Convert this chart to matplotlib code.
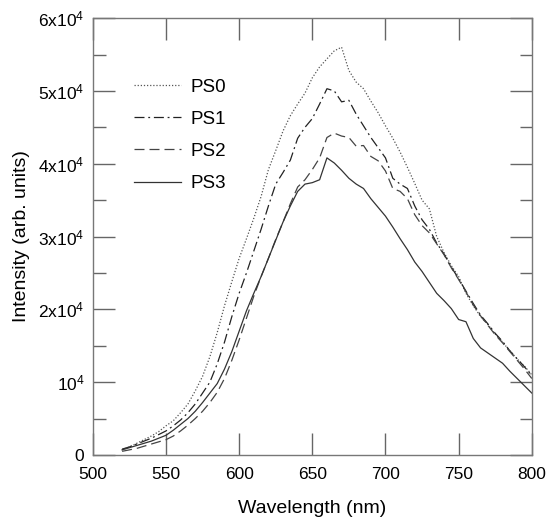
import matplotlib
matplotlib.use("Agg")
import matplotlib.pyplot as plt
from matplotlib.ticker import MultipleLocator, FixedLocator

plt.rcParams['font.family'] = ['Liberation Sans', 'DejaVu Sans']
plt.rcParams['mathtext.default'] = 'regular'

wavelength = list(range(520, 801, 5))

ps0 = [0.07, 0.11, 0.16, 0.21, 0.26, 0.32, 0.40, 0.47, 0.58, 0.70, 0.88, 1.08, 1.35, 1.68, 2.05,
       2.38, 2.70, 2.97, 3.25, 3.55, 3.92, 4.18, 4.45, 4.66, 4.82, 4.97, 5.18, 5.33, 5.44, 5.55,
       5.60, 5.28, 5.12, 5.03, 4.86, 4.70, 4.52, 4.35, 4.16, 3.95, 3.73, 3.50, 3.38, 3.00, 2.78,
       2.60, 2.45, 2.22, 2.05, 1.90, 1.79, 1.66, 1.55, 1.43, 1.32, 1.22, 1.10]
ps1 = [0.08, 0.11, 0.15, 0.19, 0.23, 0.28, 0.33, 0.40, 0.48, 0.58, 0.70, 0.85, 1.00, 1.25, 1.55,
       1.90, 2.22, 2.50, 2.80, 3.10, 3.42, 3.72, 3.88, 4.05, 4.35, 4.50, 4.62, 4.82, 5.03, 5.00,
       4.85, 4.87, 4.68, 4.52, 4.36, 4.22, 4.08, 3.80, 3.72, 3.66, 3.42, 3.23, 3.10, 2.91, 2.76,
       2.58, 2.42, 2.25, 2.08, 1.92, 1.80, 1.67, 1.56, 1.43, 1.32, 1.21, 1.09]
ps2 = [0.05, 0.07, 0.09, 0.12, 0.15, 0.18, 0.21, 0.26, 0.33, 0.41, 0.50, 0.60, 0.72, 0.86, 1.05,
       1.30, 1.58, 1.88, 2.18, 2.45, 2.70, 2.96, 3.20, 3.45, 3.68, 3.78, 3.92, 4.08, 4.36, 4.42,
       4.38, 4.36, 4.24, 4.25, 4.10, 4.04, 3.90, 3.66, 3.62, 3.52, 3.30, 3.15, 3.05, 2.90, 2.75,
       2.57, 2.41, 2.24, 2.06, 1.91, 1.78, 1.65, 1.54, 1.42, 1.30, 1.18, 1.05]
ps3 = [0.07, 0.10, 0.13, 0.16, 0.19, 0.23, 0.27, 0.34, 0.42, 0.50, 0.60, 0.72, 0.85, 0.98, 1.18,
       1.42, 1.70, 1.98, 2.22, 2.45, 2.70, 2.95, 3.20, 3.42, 3.62, 3.72, 3.74, 3.78, 4.08, 4.01,
       3.91, 3.80, 3.72, 3.66, 3.52, 3.40, 3.28, 3.13, 2.97, 2.82, 2.65, 2.52, 2.37, 2.22, 2.12,
       2.01, 1.86, 1.83, 1.60, 1.47, 1.40, 1.33, 1.26, 1.15, 1.05, 0.95, 0.85]
scale = 1e4

series_names = ['PS0', 'PS1', 'PS2', 'PS3']
x_ticks = [500, 550, 600, 650, 700, 750, 800]
y_ticks = [0, 1e4, 2e4, 3e4, 4e4, 5e4, 6e4]
y_tick_labels = ['0', '10$^4$', '2x10$^4$', '3x10$^4$', '4x10$^4$', '5x10$^4$', '6x10$^4$']

fig = plt.figure(figsize=(5.46, 5.17), dpi=100)
ax = fig.add_axes([0.170, 0.120, 0.804, 0.845])

styles = [
    dict(linestyle=(0, (1, 1.5)), color='#555555', linewidth=0.9),
    dict(linestyle=(0, (8, 3, 1.5, 3)), color='#222222', linewidth=0.9),
    dict(linestyle=(0, (8, 4)), color='#444444', linewidth=0.9),
    dict(linestyle='-', color='#333333', linewidth=0.9),
]
data = [ps0, ps1, ps2, ps3]
for name, vals, st in zip(series_names, data, styles):
    ax.plot(wavelength, [v * scale for v in vals], label=name, **st)

ax.set_xlim(500, 800)
ax.set_ylim(0, 6e4)
ax.xaxis.set_major_locator(FixedLocator(x_ticks))
ax.set_xticklabels([str(t) for t in x_ticks])
ax.yaxis.set_major_locator(FixedLocator(y_ticks))
ax.set_yticklabels(y_tick_labels)
ax.yaxis.set_minor_locator(MultipleLocator(5000))

ax.tick_params(which='both', direction='in', top=True, right=True, color='#666666', width=1)
ax.tick_params(which='major', length=16, labelsize=12.5, pad=6)
ax.tick_params(axis='x', which='major', pad=8.5)
ax.tick_params(which='minor', length=9)
ax.tick_params(axis='x', which='minor', bottom=False, top=False)
for sp in ax.spines.values():
    sp.set_color('#777777')
    sp.set_linewidth(1)

ax.set_xlabel('Wavelength (nm)', fontsize=14, labelpad=13)
ax.set_ylabel('Intensity (arb. units)', fontsize=14, labelpad=6)

leg = ax.legend(loc='upper left', bbox_to_anchor=(0.055, 0.9), frameon=False, fontsize=13.5,
                handlelength=2.5, labelspacing=0.8, handletextpad=0.5)

fig.savefig('out.png', dpi=100)
